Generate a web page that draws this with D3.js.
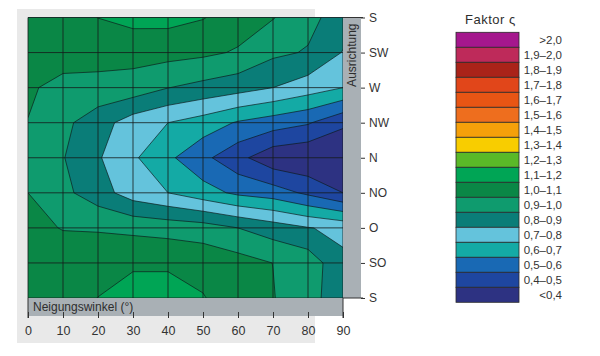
<!DOCTYPE html>
<html><head><meta charset="utf-8">
<script src="https://cdn.jsdelivr.net/npm/d3@7"></script>
<style>
body{margin:0;background:#fff}
svg{display:block}
text{font-family:"Liberation Sans",Arial,sans-serif;fill:#333}
</style>
</head><body>
<svg id="chart" width="600" height="356"></svg>
<script>
// ---------- data ----------
const angles = [0, 10, 20, 30, 40, 50, 60, 70, 80, 90];
const orientations = ["S", "SW", "W", "NW", "N", "NO", "O", "SO", "S"];

// factor per orientation row, one value per tilt angle (0..90°)
const rowS_top = [1.05, 1.07, 1.101, 1.13, 1.13, 1.105, 1.05, 1.005, 0.93, 0.85];
const rowSW    = [1.05, 1.04, 1.04, 1.036, 1.035, 1.02, 0.99, 0.92, 0.892, 0.795];
const rowW     = [1.012, 0.973, 0.967, 0.958, 0.902, 0.87, 0.84, 0.80, 0.75, 0.70];
const rowNW    = [0.998, 0.924, 0.845, 0.75, 0.70, 0.655, 0.59, 0.55, 0.51, 0.42];
const rowN     = [0.96, 0.905, 0.81, 0.715, 0.62, 0.525, 0.43, 0.33, 0.31, 0.30];
const rowNO    = [1.0, 0.925, 0.845, 0.75, 0.70, 0.64, 0.58, 0.55, 0.48, 0.40];
const rowO     = [1.03, 0.995, 0.99, 0.975, 0.96, 0.945, 0.90, 0.85, 0.805, 0.775];
const rowSO    = [1.05, 1.06, 1.07, 1.09, 1.09, 1.07, 1.04, 0.999, 0.96, 0.82];
const rowS_bot = [1.05, 1.07, 1.101, 1.13, 1.13, 1.105, 1.05, 1.005, 0.93, 0.85];

const thresholds = [0.4, 0.5, 0.6, 0.7, 0.8, 0.9, 1.0, 1.1, 1.2, 1.3, 1.4, 1.5, 1.6, 1.7, 1.8, 1.9, 2.0];
// legend, top to bottom
const legendLabels = [">2,0", "1,9–2,0", "1,8–1,9", "1,7–1,8", "1,6–1,7", "1,5–1,6", "1,4–1,5",
  "1,3–1,4", "1,2–1,3", "1,1–1,2", "1,0–1,1", "0,9–1,0", "0,8–0,9", "0,7–0,8", "0,6–0,7",
  "0,5–0,6", "0,4–0,5", "<0,4"];
// band colours, lowest band (<0,4) first
const bandColors = ["#2d3282", "#1e46a0", "#1969b4", "#14aaa5", "#64c3dc", "#0a7d78", "#0f9b6e",
  "#0a8746", "#00a555", "#5ab928", "#f8cd00", "#f5a00a", "#ee6e1e", "#e85514", "#e1461a",
  "#aa2319", "#be2a5a", "#a5178d"];

// ---------- drawing ----------
const svg = d3.select("#chart");
const grid = [rowS_top, rowSW, rowW, rowNW, rowN, rowNO, rowO, rowSO, rowS_bot];

const x = d3.scaleLinear().domain([0, 90]).range([28, 343]);
const y = d3.scaleLinear().domain([0, orientations.length - 1]).range([17.5, 298]);

// light background panel
svg.append("rect").attr("x", 17).attr("y", 9).attr("width", 298).attr("height", 334).attr("fill", "#e9e9e9");

// padded grid (edge values repeated) so contours run straight to the plot border
const nx = angles.length + 2, ny = grid.length + 2;
const vals = [];
for (let j = 0; j < ny; j++) for (let i = 0; i < nx; i++) {
  const r = Math.min(grid.length - 1, Math.max(0, j - 1));
  const c = Math.min(angles.length - 1, Math.max(0, i - 1));
  vals.push(grid[r][c]);
}
const contours = d3.contours().size([nx, ny]).thresholds(thresholds)(vals);
const step = angles[1] - angles[0];
const proj = d3.geoTransform({
  point(px, py) { this.stream.point(x((px - 1.5) * step), y(py - 1.5)); }
});
const path = d3.geoPath(proj);

svg.append("defs").append("clipPath").attr("id", "plotclip")
  .append("rect").attr("x", x(0)).attr("y", y(0)).attr("width", x(90) - x(0)).attr("height", y(8) - y(0));

const plot = svg.append("g").attr("clip-path", "url(#plotclip)");
plot.append("rect").attr("x", x(0)).attr("y", y(0)).attr("width", x(90) - x(0)).attr("height", y(8) - y(0))
  .attr("fill", bandColors[0]);
plot.selectAll("path.band").data(contours).join("path").attr("class", "band")
  .attr("d", path).attr("fill", (d, i) => bandColors[i + 1]);
plot.selectAll("path.iso").data(contours).join("path").attr("class", "iso")
  .attr("d", path).attr("fill", "none").attr("stroke", "#0d1a1a").attr("stroke-width", 0.8)
  .attr("stroke-opacity", 0.85).attr("stroke-linejoin", "round");

// grid lines
const gl = svg.append("g").attr("stroke", "#151a1a").attr("stroke-width", 1).attr("stroke-opacity", 0.8);
gl.selectAll("line.v").data(angles).join("line").attr("class", "v")
  .attr("x1", d => x(d)).attr("x2", d => x(d)).attr("y1", y(0)).attr("y2", y(8));
gl.selectAll("line.h").data(d3.range(orientations.length)).join("line").attr("class", "h")
  .attr("x1", x(0)).attr("x2", x(90)).attr("y1", d => y(d)).attr("y2", d => y(d));

// grey axis bars
const barCol = "#a9b0b5";
svg.append("rect").attr("x", x(0)).attr("y", y(8)).attr("width", x(90) - x(0)).attr("height", 18).attr("fill", barCol);
svg.append("rect").attr("x", x(90)).attr("y", y(0)).attr("width", 18).attr("height", y(8) - y(0)).attr("fill", barCol);
svg.append("text").attr("x", 33).attr("y", y(8) + 13).attr("font-size", 12).style("fill", "#2e2e2e")
  .text("Neigungswinkel (°)");
svg.append("text").attr("transform", `translate(355.5,${y(0) + 6}) rotate(-90)`).attr("text-anchor", "end")
  .attr("font-size", 12).style("fill", "#2e2e2e").text("Ausrichtung");

// bottom axis
const xAxis = svg.append("g").attr("transform", `translate(0,${y(8) + 14})`)
  .call(d3.axisBottom(x).tickValues(angles).tickSize(6).tickPadding(8));
xAxis.select(".domain").remove();
xAxis.selectAll("line").attr("stroke", "#333");
xAxis.selectAll("text").attr("font-size", 12.5).attr("font-family", "Liberation Sans, Arial, sans-serif").style("fill", "#333");
svg.selectAll("line.edge").data([0, 90]).join("line").attr("class", "edge")
  .attr("x1", d => x(d)).attr("x2", d => x(d)).attr("y1", y(8)).attr("y2", y(8) + 20)
  .attr("stroke", "#333").attr("stroke-width", 1);

// right axis
const yAxis = svg.append("g").attr("transform", `translate(${x(90) + 18},0)`)
  .call(d3.axisRight(y).tickValues(d3.range(orientations.length)).tickFormat(i => orientations[i]).tickSize(4).tickPadding(4));
yAxis.select(".domain").remove();
yAxis.selectAll("line").attr("stroke", "#333");
yAxis.selectAll("text").attr("font-size", 12).attr("font-family", "Liberation Sans, Arial, sans-serif").style("fill", "#333");
svg.selectAll("line.sedge").data([0, 8]).join("line").attr("class", "sedge")
  .attr("x1", x(90)).attr("x2", x(90) + 20).attr("y1", d => y(d)).attr("y2", d => y(d))
  .attr("stroke", "#333").attr("stroke-width", 1);

// legend
const lg = svg.append("g");
lg.append("text").attr("x", 465).attr("y", 24).attr("font-size", 13).attr("letter-spacing", 0.5)
  .style("fill", "#2e2e2e").text("Faktor ς");
const ly = d3.scaleBand().domain(legendLabels).range([32.3, 32.3 + 15 * legendLabels.length]);
lg.selectAll("rect").data(legendLabels).join("rect")
  .attr("x", 456).attr("y", d => ly(d)).attr("width", 63).attr("height", ly.bandwidth())
  .attr("fill", (d, i) => bandColors[bandColors.length - 1 - i])
  .attr("stroke", "#2a2a2a").attr("stroke-width", 0.8);
lg.selectAll("text.lab").data(legendLabels).join("text").attr("class", "lab")
  .attr("x", 562).attr("y", d => ly(d) + ly.bandwidth() / 2 + 4).attr("text-anchor", "end")
  .attr("font-size", 11.5).style("fill", "#333").text(d => d);
</script>
</body></html>
